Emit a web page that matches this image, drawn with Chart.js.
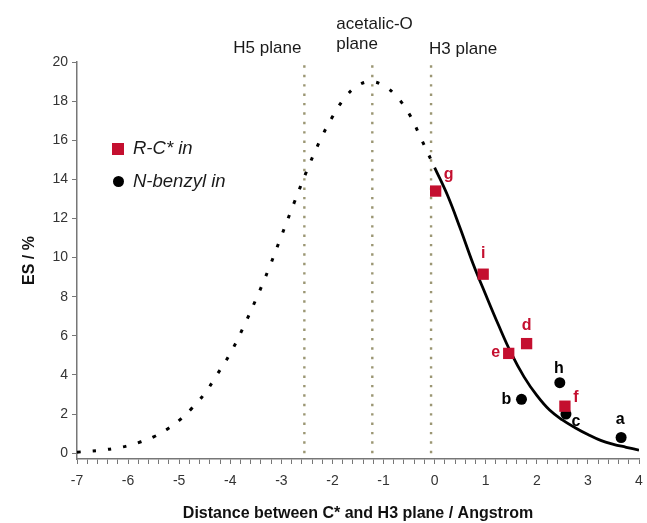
<!DOCTYPE html>
<html>
<head>
<meta charset="utf-8">
<script src="https://cdn.jsdelivr.net/npm/chart.js@4.4.1/dist/chart.umd.min.js"></script>
<style>
  html, body { margin: 0; padding: 0; background: #fff; }
  #wrap { width: 647px; height: 523px; }
</style>
</head>
<body>
<div id="wrap"><canvas id="chart" width="647" height="523"></canvas></div>
<script>
// fitted curve (dashed part left of the H3 plane, solid part right of it)
const dashX = [-7, -6.75, -6.5, -6.25, -6, -5.75, -5.5, -5.25, -5, -4.75, -4.5, -4.25, -4, -3.75, -3.5,
               -3.25, -3, -2.75, -2.5, -2.25, -2, -1.75, -1.5, -1.25, -1, -0.75, -0.5, -0.25, 0];
const dashY = [0.05, 0.1, 0.16, 0.25, 0.38, 0.58, 0.83, 1.2, 1.67, 2.3, 3.05, 4.05, 5.1, 6.4, 7.85,
               9.4, 11.1, 12.8, 14.45, 15.95, 17.2, 18.2, 18.8, 19.0, 18.8, 18.25, 17.35, 16.0, 14.6];
const solidX = [0, 0.25, 0.5, 0.75, 1, 1.25, 1.5, 1.75, 2, 2.25, 2.5, 2.75, 3, 3.25, 3.5, 3.75, 4];
const solidY = [14.6, 13.2, 11.5, 9.7, 8.1, 6.55, 5.1, 3.9, 2.95, 2.2, 1.7, 1.3, 0.95, 0.65, 0.45, 0.3, 0.15];

// R-C* in
const rcLabels = ['g', 'i', 'd', 'e', 'f'];
const rcX = [0.02, 0.95, 1.8, 1.45, 2.55];
const rcY = [13.4, 9.15, 5.6, 5.1, 2.4];

// N-benzyl in
const nbLabels = ['a', 'b', 'c', 'h'];
const nbX = [3.65, 1.7, 2.57, 2.45];
const nbY = [0.8, 2.75, 2.0, 3.6];

// reference planes
const planeNames = [['H5 plane'], ['acetalic-O', 'plane'], ['H3 plane']];
const planeX = [-2.55, -1.22, -0.07];

const legendNames = ['R-C* in', 'N-benzyl in'];
const yTicks = [0, 2, 4, 6, 8, 10, 12, 14, 16, 18, 20];

const RED = '#c40f2f';
const FONT = '"Liberation Sans", Arial, sans-serif';

const pts = (xs, ys) => xs.map((x, i) => ({ x: x, y: ys[i] }));

const datasets = [
    {
        label: legendNames[0], data: pts(rcX, rcY), showLine: false,
        pointStyle: 'rect', pointRadius: 8, backgroundColor: RED, borderWidth: 0
    },
    {
        label: legendNames[1], data: pts(nbX, nbY), showLine: false,
        pointStyle: 'circle', pointRadius: 5.5, backgroundColor: '#000', borderWidth: 0
    },
    {
        data: pts(solidX, solidY), showLine: true, pointRadius: 0,
        borderColor: '#000', borderWidth: 2.8, tension: 0.4
    },
    {
        data: pts(dashX, dashY), showLine: true, pointRadius: 0,
        borderColor: '#000', borderWidth: 3, borderDash: [3.5, 12], tension: 0.4
    }
];
planeX.forEach(px => {
    datasets.push({
        data: [{ x: px, y: 0 }, { x: px, y: 20 }], showLine: true, pointRadius: 0,
        borderColor: '#9b9673', borderWidth: 2.4, borderDash: [2.4, 7]
    });
});

// letters next to the points
const labelOffset = {
    g: [13, -16], i: [0, -21], d: [0, -18], e: [-13, -1], f: [11, -9],
    a: [-1, -18], b: [-15, 0], c: [10, 8], h: [-1, -14]
};

const annotate = {
    id: 'annotate',
    afterDatasetsDraw(chart) {
        const ctx = chart.ctx;
        const xs = chart.scales.x;
        ctx.save();
        ctx.textBaseline = 'middle';

        // point letters
        ctx.font = 'bold 16px ' + FONT;
        ctx.textAlign = 'center';
        [[0, rcLabels, RED], [1, nbLabels, '#000']].forEach(([di, names, col]) => {
            const meta = chart.getDatasetMeta(di);
            ctx.fillStyle = col;
            meta.data.forEach((el, i) => {
                const off = labelOffset[names[i]];
                ctx.fillText(names[i], el.x + off[0], el.y + off[1]);
            });
        });

        // plane names
        ctx.font = '17px ' + FONT;
        ctx.fillStyle = '#1a1a1a';
        const p0 = xs.getPixelForValue(planeX[0]);
        const p1 = xs.getPixelForValue(planeX[1]);
        const p2 = xs.getPixelForValue(planeX[2]);
        ctx.textAlign = 'right';
        ctx.fillText(planeNames[0][0], p0 - 3, 48);
        ctx.textAlign = 'left';
        ctx.fillText(planeNames[1][0], p1 - 36, 24);
        ctx.fillText(planeNames[1][1], p1 - 36, 44);
        ctx.fillText(planeNames[2][0], p2 - 2, 49);

        // legend
        ctx.fillStyle = RED;
        ctx.fillRect(112, 143, 12, 12);
        ctx.fillStyle = '#000';
        ctx.beginPath();
        ctx.arc(118.5, 181.5, 5.5, 0, Math.PI * 2);
        ctx.fill();
        ctx.font = 'italic 18.5px ' + FONT;
        ctx.fillStyle = '#1a1a1a';
        ctx.fillText(legendNames[0], 133, 149);
        ctx.fillText(legendNames[1], 133, 181.5);
        ctx.restore();
    }
};

new Chart(document.getElementById('chart'), {
    type: 'scatter',
    data: { datasets: datasets },
    options: {
        responsive: false,
        animation: false,
        layout: { padding: { top: 62, right: 3, left: 0, bottom: 0 } },
        plugins: { legend: { display: false }, tooltip: { enabled: false } },
        scales: {
            x: {
                type: 'linear', min: -7, max: 4,
                afterFit: s => { s.height = 64; s.paddingLeft = 0; s.paddingRight = 0; },
                border: { display: true, color: '#777', width: 1.5 },
                grid: { drawOnChartArea: false, drawTicks: true, tickLength: 5, color: '#777' },
                ticks: {
                    stepSize: 0.2, autoSkip: false, maxTicksLimit: 100, maxRotation: 0,
                    padding: 9, color: '#333', font: { family: FONT, size: 14 },
                    callback: v => {
                        const r = Math.round(v);
                        return Math.abs(v - r) < 1e-6 ? String(r) : '';
                    }
                },
                title: {
                    display: true, text: 'Distance between C* and H3 plane / Angstrom',
                    color: '#111', font: { family: FONT, size: 16, weight: 'bold' },
                    padding: { bottom: 0 }
                }
            },
            y: {
                min: -0.3, max: 20,
                afterFit: s => { s.width = 77; },
                afterBuildTicks: s => { s.ticks = yTicks.map(v => ({ value: v })); },
                border: { display: true, color: '#777', width: 1.5 },
                grid: { drawOnChartArea: false, drawTicks: true, tickLength: 5, color: '#777' },
                ticks: { padding: 4, color: '#333', font: { family: FONT, size: 14 } },
                title: {
                    display: true, text: 'ES / %',
                    color: '#111', font: { family: FONT, size: 16, weight: 'bold' },
                    padding: { top: 20 }
                }
            }
        }
    },
    plugins: [annotate]
});
</script>
</body>
</html>
